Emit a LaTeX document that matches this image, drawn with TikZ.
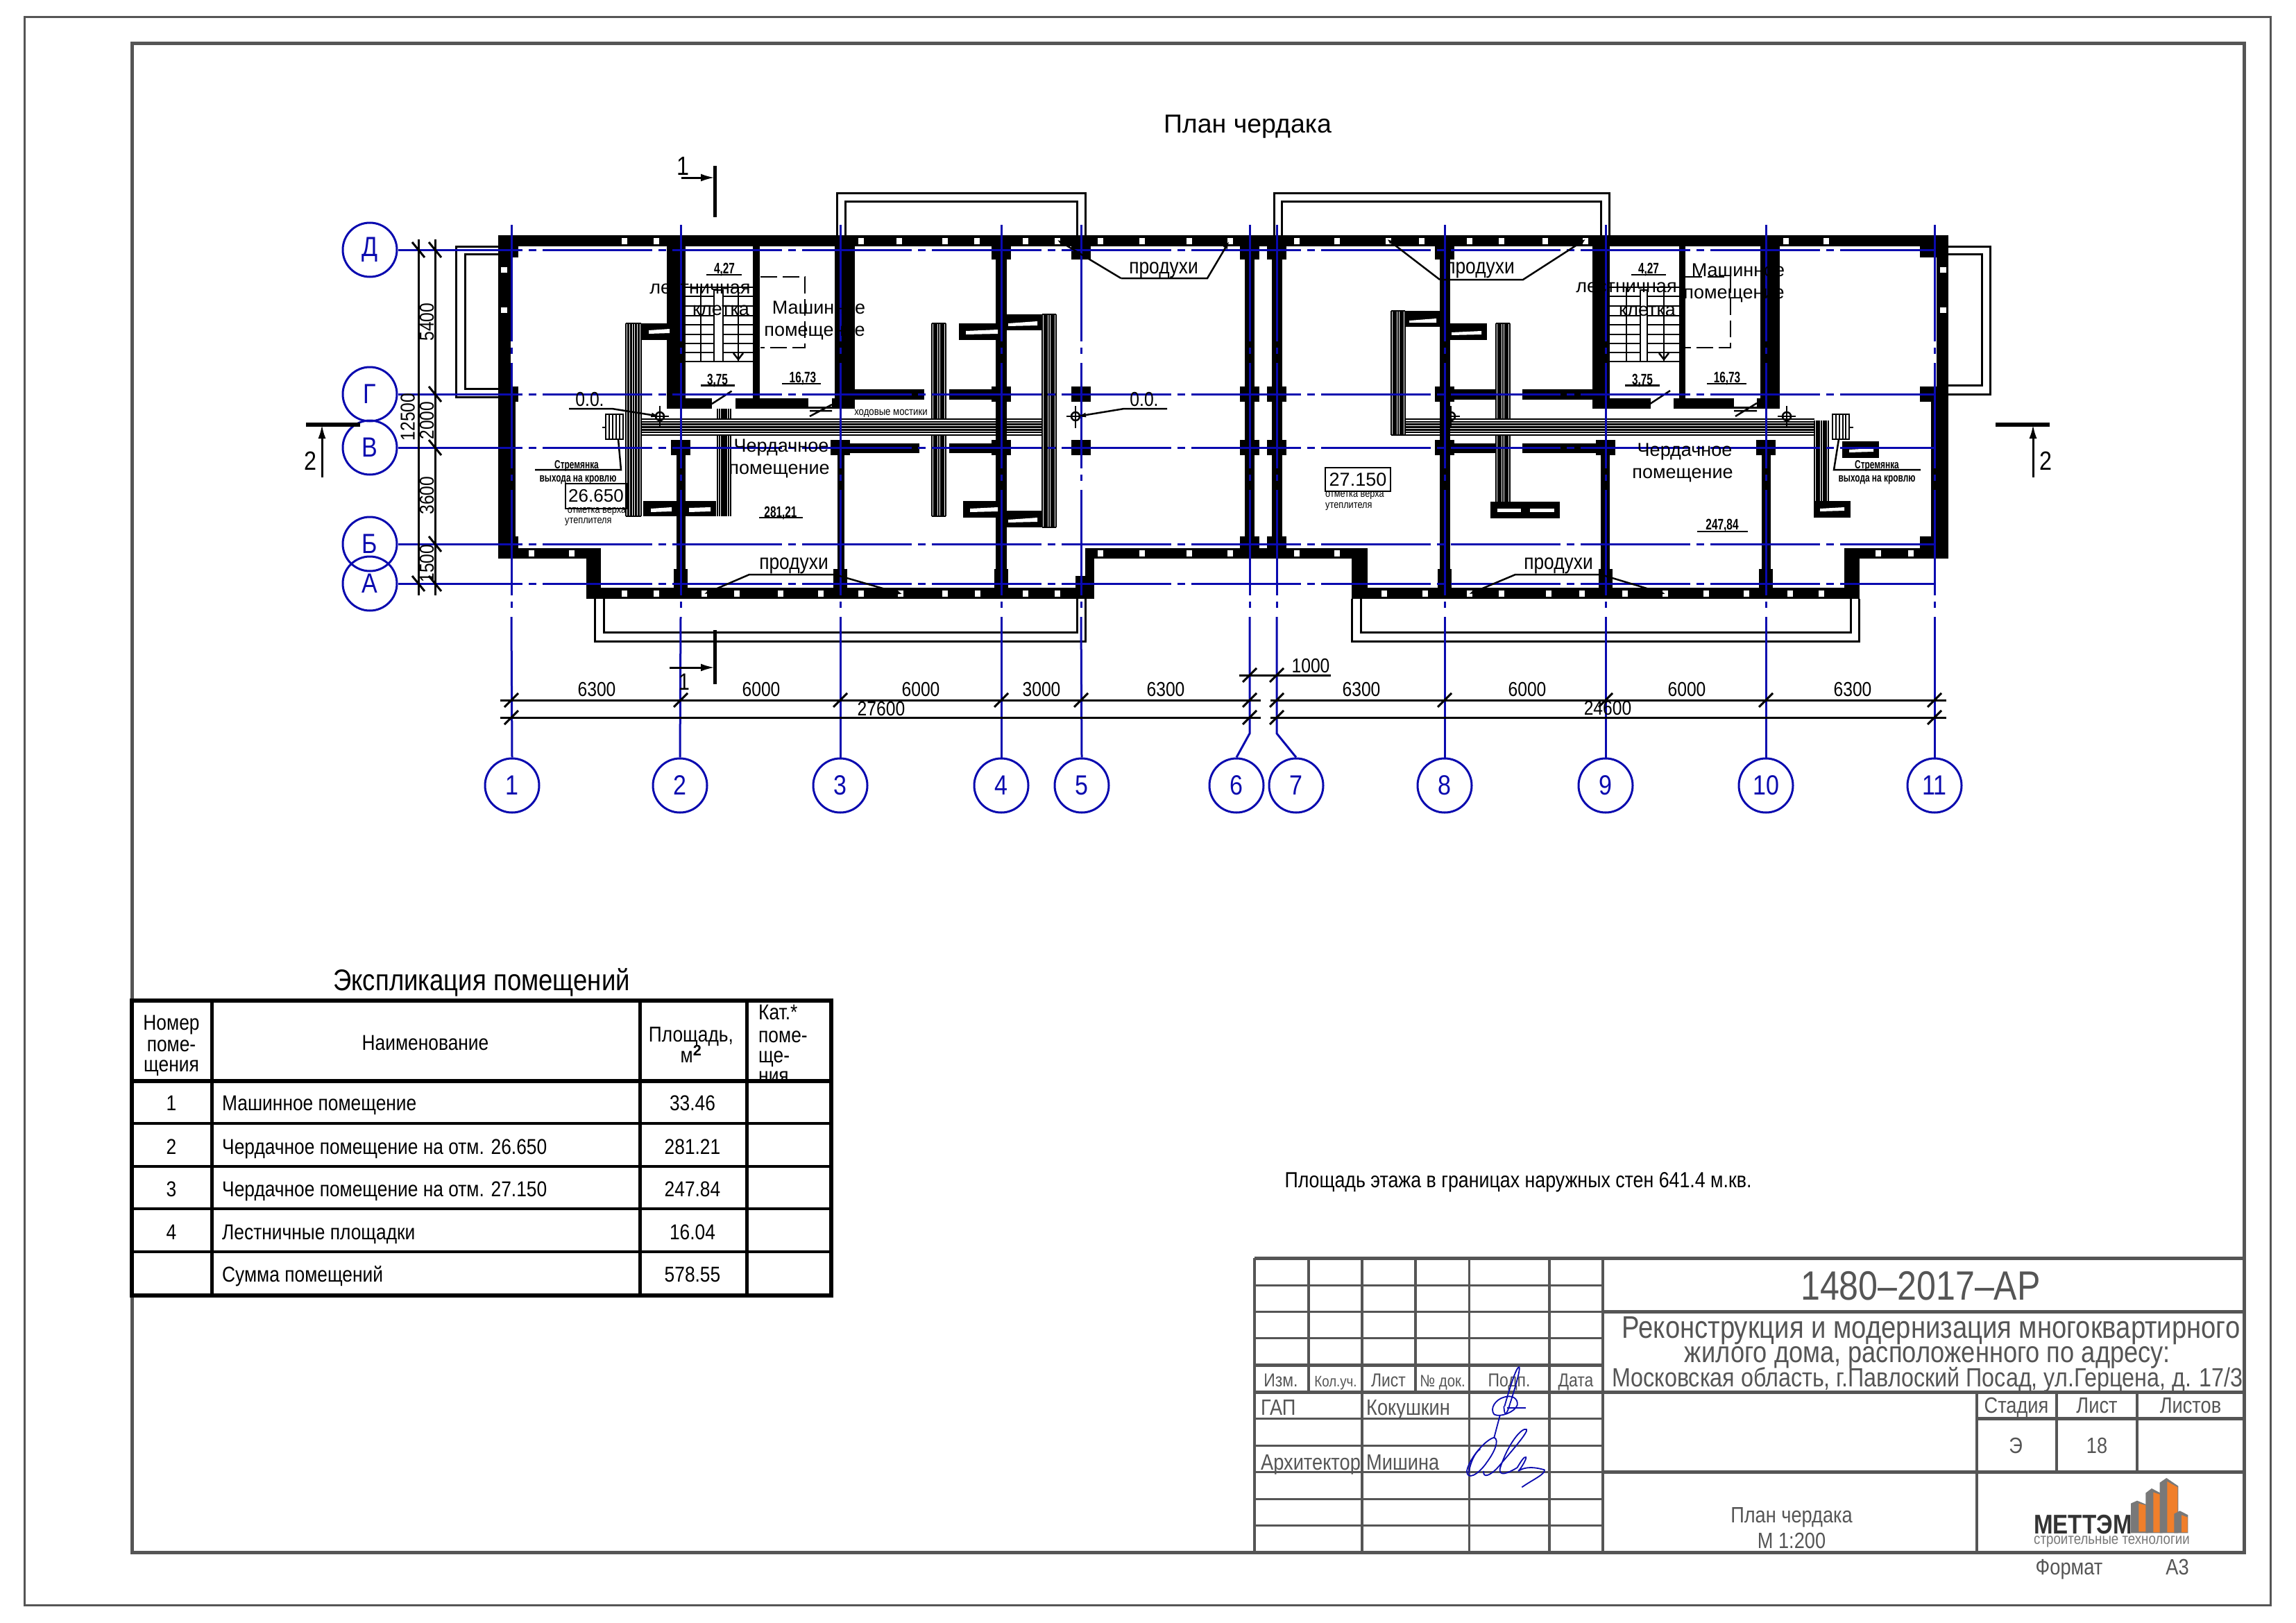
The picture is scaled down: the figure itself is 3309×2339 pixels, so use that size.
\documentclass[tikz,border=0pt]{standalone}
\usepackage{fontspec}
\setmainfont{Liberation Sans}
\newfontfamily\gost[FakeStretch=0.85]{Liberation Sans}
\newfontfamily\gostn[FakeStretch=0.7]{Liberation Sans}
\usetikzlibrary{arrows.meta}
\newcommand\fs[1]{\fontsize{#1}{#1}\selectfont}
\definecolor{axblue}{RGB}{10,10,175}
\definecolor{tbgray}{RGB}{85,85,85}
\definecolor{logoor}{RGB}{240,127,43}
\definecolor{logogr}{RGB}{120,120,120}
\newcommand\WallR[4]{\fill[black] (#1,#2) rectangle (#3,#4);}
\newcommand\HBand[4]{\foreach \i in {0,...,6} \draw[line width=2.5pt] (#1,{#3+\i*(#4-#3)/6}) -- (#2,{#3+\i*(#4-#3)/6}); }
\newcommand\VBand[4]{\foreach \i in {0,...,6} \draw[line width=2.5pt] ({#1+\i*(#2-#1)/6},#3) -- ({#1+\i*(#2-#1)/6},#4); }
\newcommand\BoxS[4]{\fill[black] (#1,#2) rectangle (#3,#4);}
\newcommand\Head[2]{\fill[black] (#1-14,#2-11) rectangle (#1+14,#2+11);}
\newcommand\HeadB[1]{\fill[black] (#1-10,820) rectangle (#1+10,847);}
\begin{document}
\begin{tikzpicture}[x=1pt,y=-1pt,
  axc/.style={draw=axblue,line width=3pt,circle,minimum size=78pt,inner sep=0pt,text=axblue,font=\gost\fs{40}},
  axl/.style={draw=axblue,line width=3pt},
  axh/.style={axl,dash pattern=on 158pt off 9pt on 11pt off 9pt,dash phase=0pt},
  outl/.style={draw=black,line width=3pt},
  dimt/.style={font=\gost\fs{29},text=black,inner sep=0pt,text height=21pt,text depth=0pt},
  room/.style={font=\fs{27},text=black,inner sep=0pt,align=center,text height=20pt,text depth=5pt},
  area/.style={font=\gostn\bfseries\fs{22},text=black,inner sep=0pt,text height=16pt,text depth=0pt},
  tick/.style={draw=black,line width=3pt},
  lead/.style={draw=black,line width=2.5pt},
  tbtext/.style={font=\gost\fs{32},text=tbgray,inner sep=0pt,text height=23pt,text depth=0pt},
  tabtext/.style={font=\gost\fs{31},text=black,inner sep=0pt,text height=22pt,text depth=0pt},
  sig/.style={draw=axblue,line width=1.8pt,line join=round},
  tiny/.style={font=\gost\fs{15},text=black,inner sep=0pt},
  ladt/.style={font=\gostn\bfseries\fs{17},text=black,inner sep=0pt,text height=12pt,text depth=0pt}
]
\useasboundingbox (0,0) rectangle (3309,2339);
\fill[white] (0,0) rectangle (3309,2339);
% frames
\draw[tbgray,line width=3pt] (35,25) rectangle (3272,2313);
\draw[tbgray,line width=5pt] (190,63) rectangle (3234,2237);
% title
\node[font=\fs{37.5},inner sep=0pt] (title) at (1798,182) {План чердака};
% balconies
\draw[outl] (1206,339) -- (1206,278) -- (1564,278) -- (1564,339);
\draw[outl] (1218,339) -- (1218,290) -- (1552,290) -- (1552,339);
\draw[outl] (1836,339) -- (1836,278) -- (2319,278) -- (2319,339);
\draw[outl] (1847,339) -- (1847,290) -- (2307,290) -- (2307,339);
\draw[outl] (857,863) -- (857,924) -- (1564,924) -- (1564,863);
\draw[outl] (870,863) -- (870,911) -- (1552,911) -- (1552,863);
\draw[outl] (1948,863) -- (1948,924) -- (2679,924) -- (2679,863);
\draw[outl] (1961,863) -- (1961,911) -- (2667,911) -- (2667,863);
\draw[outl] (718,355) -- (657,355) -- (657,572) -- (718,572);
\draw[outl] (718,366) -- (670,366) -- (670,560) -- (718,560);
\draw[outl] (2808,355) -- (2868,355) -- (2868,568) -- (2808,568);
\draw[outl] (2808,366) -- (2856,366) -- (2856,555) -- (2808,555);
% outer walls
\WallR{718}{339}{2808}{355}
\WallR{718}{339}{736}{805}
\WallR{718}{572}{743}{805}
\WallR{718}{790}{866}{805}
\WallR{845}{790}{866}{863}
\WallR{845}{847}{1577}{863}
\WallR{1564}{790}{1577}{863}
\WallR{1550}{830}{1577}{863}
\WallR{1564}{790}{1971}{805}
\WallR{1948}{790}{1971}{863}
\WallR{1948}{847}{2680}{863}
\WallR{2658}{790}{2680}{863}
\WallR{2658}{790}{2808}{805}
\WallR{2791}{339}{2808}{805}
\WallR{2783}{568}{2808}{800}
% heads of the end walls
\WallR{718}{355}{747}{371}
\WallR{718}{557}{747}{579}
\WallR{718}{773}{747}{795}
\WallR{2767}{355}{2795}{371}
\WallR{2767}{557}{2795}{579}
\WallR{2767}{773}{2795}{795}
% stair block left
\WallR{961}{355}{988}{589}
\WallR{961}{574}{1026}{589}
\WallR{1060}{574}{1232}{589}
\WallR{1203}{355}{1232}{589}
\WallR{1085}{355}{1095}{574}
\fill[white] (1165,574) rectangle (1199,586);
% axis 2, 3 lower
\WallR{975}{634}{988}{847}
\WallR{1207}{634}{1217}{847}
\Head{981}{645}\Head{1211}{645}\HeadB{981}\HeadB{1211}
% stubs left
\WallR{1217}{561}{1332}{576}
\WallR{1217}{639}{1325}{653}
\WallR{1368}{561}{1443}{576}
\WallR{1368}{639}{1443}{653}
% axis 4,5
\WallR{1435}{355}{1451}{847}
\Head{1443}{363}\Head{1443}{568}\Head{1443}{645}\HeadB{1443}
\Head{1558}{363}\Head{1558}{568}\Head{1558}{645}
% axis 6,7
\WallR{1794}{355}{1808}{790}
\WallR{1833}{355}{1848}{790}
\foreach \x in {1801,1840} {\Head{\x}{363}\Head{\x}{568}\Head{\x}{645}\Head{\x}{784}}
% axis 8
\WallR{2075}{355}{2090}{847}
\Head{2082}{363}\Head{2082}{568}\Head{2082}{645}\HeadB{2082}
% stair block right
\WallR{2295}{355}{2320}{589}
\WallR{2295}{574}{2379}{589}
\WallR{2412}{574}{2565}{589}
\WallR{2420}{355}{2429}{574}
\WallR{2537}{355}{2565}{589}
\fill[white] (2499,574) rectangle (2532,586);
\WallR{2307}{634}{2320}{847}
\WallR{2539}{634}{2552}{847}
\Head{2314}{645}\Head{2545}{645}\HeadB{2314}\HeadB{2545}
% stubs right
\WallR{2090}{561}{2156}{576}
\WallR{2194}{561}{2295}{576}
\WallR{2090}{639}{2156}{653}
\WallR{2194}{639}{2306}{653}
% windows
\foreach \x in {900,945.5,1241,1296,1362,1408,1478,1524,1586,1645.5,1714,1773,1869,1927,2001,2049,2117.5,2164,2227,2285,2574,2632}
  \fill[white] (\x-4,342.5) rectangle (\x+4,351.5);
\foreach \x in {900,945.5,1015,1061.5,1125,1183,1241,1298,1362,1408.5,1478,1524,1995,2054,2117.5,2164,2232,2280,2342,2400,2458.5,2516.5,2580,2625}
  \fill[white] (\x-4,851) rectangle (\x+4,860);
\foreach \x in {765.6,823.7,1586,1645.5,1714,1773,1869,1927,2707,2753.5}
  \fill[white] (\x-4,793) rectangle (\x+4,802);
\foreach \y in {388.6,446.6} {\fill[white] (722,\y-4) rectangle (731,\y+4); \fill[white] (2796,\y-4) rectangle (2805,\y+4);}
% ducts and walkways: left part
\BoxS{924}{466}{972}{490}
\BoxS{927}{722}{1032}{744}
\BoxS{1382}{466}{1443}{490}
\BoxS{1388}{722}{1443}{746}
\BoxS{1445}{453}{1502}{476}
\BoxS{1445}{736}{1502}{760}
\fill[white] (935,476) -- (965,474) -- (965,480) -- (935,481) -- cycle;
\fill[white] (938,733) -- (968,731) -- (968,737) -- (938,738) -- cycle;
\fill[white] (993,732) -- (1024,731) -- (1024,737) -- (993,738) -- cycle;
\fill[white] (1392,477) -- (1438,475) -- (1438,481) -- (1392,482) -- cycle;
\fill[white] (1398,733) -- (1438,731) -- (1438,737) -- (1398,738) -- cycle;
\fill[white] (1453,466) -- (1495,463) -- (1495,469) -- (1453,470) -- cycle;
\fill[white] (1453,749) -- (1495,746) -- (1495,752) -- (1453,753) -- cycle;
\HBand{924}{1502}{604}{627}
\VBand{902}{924}{466}{744}
\draw[line width=2pt] (902,466) -- (924,466) (902,744) -- (924,744);
\VBand{1502}{1522}{453}{760}
\draw[line width=2pt] (1502,453) -- (1522,453) (1502,760) -- (1522,760);
\VBand{1034}{1053}{589}{604}
\VBand{1034}{1053}{627}{744}
\VBand{1343}{1363}{466}{604}
\VBand{1343}{1363}{627}{744}
\draw[line width=2pt] (1343,466) -- (1363,466) (1343,744) -- (1363,744);
% ducts right part
\BoxS{2025}{447.5}{2076}{471}
\BoxS{2089}{466}{2143}{490}
\BoxS{2148}{723}{2248}{747}
\BoxS{2614}{722}{2667}{746}
\BoxS{2655}{636}{2708}{660}
\fill[white] (2031,462) -- (2070,459) -- (2070,465) -- (2031,465) -- cycle;
\fill[white] (2092,479) -- (2135,477) -- (2135,482) -- (2092,483) -- cycle;
\fill[white] (2158,733) -- (2192,733) -- (2192,738) -- (2158,738) -- cycle;
\fill[white] (2205,733) -- (2240,733) -- (2240,738) -- (2205,738) -- cycle;
\fill[white] (2623,733) -- (2658,731) -- (2658,736) -- (2623,737) -- cycle;
\fill[white] (2665,648) -- (2700,646) -- (2700,651) -- (2665,652) -- cycle;
\HBand{2025}{2615}{604}{627}
\VBand{2005}{2025}{447.5}{627}
\draw[line width=2pt] (2005,447.5) -- (2025,447.5) (2005,627) -- (2025,627);
\VBand{2615}{2635}{606}{722}
\VBand{2156}{2176}{466}{604}
\VBand{2156}{2176}{627}{724}
\draw[line width=2pt] (2156,466) -- (2176,466);
% stairs left
\foreach \y in {414,427,441,455,468,482,495,508,521} \draw[line width=2.5pt] (988,\y) -- (1085,\y);
\draw[line width=2.5pt] (1010,414) -- (1010,521) (1064,414) -- (1064,521);
\draw[line width=2.5pt,fill=white] (1029,418) rectangle (1042,521);
\draw[line width=2.5pt,-{Straight Barb[length=9pt,width=14pt]}] (1064,484) -- (1064,520);
% stairs right
\foreach \y in {414,427,441,455,468,482,495,508,521} \draw[line width=2.5pt] (2320,\y) -- (2420,\y);
\draw[line width=2.5pt] (2344,414) -- (2344,521) (2398,414) -- (2398,521);
\draw[line width=2.5pt,fill=white] (2364,418) rectangle (2374,521);
\draw[line width=2.5pt,-{Straight Barb[length=9pt,width=14pt]}] (2398,484) -- (2398,520);
% dashed rooms
\draw[black,line width=2.5pt,dash pattern=on 24pt off 8pt] (1096,399) -- (1160,399) -- (1160,501) -- (1096,501);
\draw[black,line width=2.5pt,dash pattern=on 24pt off 8pt] (2429,399) -- (2494,399) -- (2494,501) -- (2429,501);
% doors
\draw[line width=2.5pt] (1026,582) -- (1054.5,563.6);
\draw[line width=2.5pt] (1167,600) -- (1199,583) (1167,592) -- (1199,592);
\draw[line width=2.5pt] (2378,582) -- (2407,563);
\draw[line width=2.5pt] (2501,600) -- (2532,581) (2499,592) -- (2532,592);
% ladders
\draw[line width=2pt] (873,597) rectangle (898,633);
\foreach \x in {878,883,888,893} \draw[line width=1.5pt] (\x,597) -- (\x,633);
\draw[line width=2.5pt] (868,616) -- (873,616);
\draw[line width=2pt] (2641,597) rectangle (2665,633);
\foreach \x in {2646,2651,2656,2660} \draw[line width=1.5pt] (\x,597) -- (\x,633);
\draw[line width=2.5pt] (2665,616) -- (2671,616);
\draw[lead] (891,633) -- (895,677) -- (771,677);
\draw[lead] (2650,633) -- (2643,677) -- (2768,677);
\node[ladt] (s1) at (831,669) {Стремянка};
\node[ladt] (s2) at (833,688) {выхода на кровлю};
\node[ladt] (s3) at (2705,669) {Стремянка};
\node[ladt] (s4) at (2705,688) {выхода на кровлю};
% drains
\foreach \x/\y in {951/600,1550/600,2091/600,2575/600} {
  \draw[line width=2.5pt] (\x,\y) circle (6pt);
  \draw[line width=2.5pt] (\x-13,\y) -- (\x+13,\y) (\x,\y-15) -- (\x,\y+17);
}
% grid axes: nodes
\node[axc] (aD) at (533,360) {Д};
\node[axc] (aG) at (533,568) {Г};
\node[axc] (aV) at (533,645) {В};
\node[axc] (aB) at (533,784) {Б};
\node[axc] (aA) at (533,841) {А};
\foreach \y/\n in {360/aD,568/aG,645/aV,784/aB,841/aA} {
  \draw[axl] (\n.east) -- (595,\y);
  \draw[axh] (595,\y) -- (2790,\y);
}
\foreach \n/\x in {1/738,2/980,3/1211,4/1443,5/1559,6/1782,7/1868,8/2082,9/2314,10/2545,11/2788}
  \node[axc] (c\n) at (\x,1132) {\n};
\foreach \n/\x in {1/737,2/981,3/1211,4/1443,5/1558,6/1801,7/1840,8/2082,9/2314,10/2545,11/2788} {
  \draw[axl] (\x,324) -- (\x,492) (\x,501) -- (\x,510) (\x,523) -- (\x,675) (\x,684) -- (\x,693) (\x,706) -- (\x,858) (\x,867) -- (\x,876);
}
\foreach \n/\x in {1/737,2/981,3/1211,4/1443,5/1558,8/2082,9/2314,10/2545,11/2788}
  \draw[axl] (\x,889) -- (c\n.north);
\draw[axl] (1801,889) -- (1801,1057) -- (c6.north);
\draw[axl] (1840,889) -- (1840,1057) -- (c7.north);
% left dimensions
\draw[tick] (603,345) -- (603,858);
\draw[tick] (627,345) -- (627,858);
\foreach \x/\y in {603/360,603/841,627/360,627/568,627/645,627/784,627/841}
  \draw[tick] (\x-9,\y-11) -- (\x+9,\y+11);
\node[dimt,rotate=90] (d1) at (587,601) {12500};
\node[dimt,rotate=90] (d2) at (614.5,464) {5400};
\node[dimt,rotate=90] (d3) at (614.5,606) {2000};
\node[dimt,rotate=90] (d4) at (614.5,714) {3600};
\node[dimt,rotate=90] (d5) at (614.5,812) {1500};
% bottom dimensions
\draw[tick] (721,1009) -- (1817,1009) (1831,1009) -- (2805,1009);
\draw[tick] (721,1034) -- (1817,1034) (1831,1034) -- (2805,1034);
\draw[tick] (1786,973) -- (1918,973);
\foreach \x in {737,981,1211,1443,1558,1801,1840,2082,2314,2545,2788}
  \draw[tick] (\x-10,1019) -- (\x+10,999);
\foreach \x in {737,1801,1840,2788}
  \draw[tick] (\x-10,1044) -- (\x+10,1024);
\foreach \x in {1801,1840}
  \draw[tick] (\x-10,983) -- (\x+10,963);
\foreach \x/\t in {860/6300,1097/6000,1327/6000,1501/3000,1680/6300,1962/6300,2201/6000,2431/6000,2670/6300}
  \node[dimt] at (\x,993) {\t};
\node[dimt] (d27) at (1270,1021) {27600};
\node[dimt] (d24) at (2317,1020) {24600};
\node[dimt] (d10) at (1889,959) {1000};
% section marks
\draw[line width=5pt] (1030,239) -- (1030,313);
\draw[line width=3pt,-{Latex[length=20pt,width=11pt]}] (982,256) -- (1030,256);
\node[font=\gost\fs{38},inner sep=0pt] (sec1a) at (984,239) {1};
\draw[line width=5pt] (1030,908) -- (1030,986);
\draw[line width=3pt,-{Latex[length=20pt,width=11pt]}] (965,962) -- (1030,962);
\node[font=\gost\fs{34},inner sep=0pt] (sec1b) at (986,983) {1};
\draw[line width=6pt] (441,612) -- (519,612);
\draw[line width=3pt,-{Latex[length=20pt,width=11pt]}] (464,688) -- (464,612);
\node[font=\gost\fs{38},inner sep=0pt] (sec2a) at (447,664) {2};
\draw[line width=6pt] (2876,612) -- (2954,612);
\draw[line width=3pt,-{Latex[length=20pt,width=11pt]}] (2930,688) -- (2930,612);
\node[font=\gost\fs{38},inner sep=0pt] (sec2b) at (2948,664) {2};
% leaders
\draw[lead,-{Latex[length=12pt,width=7pt]}] (820,589) -- (882,589) -- (951,600);
\node[dimt] (oo1) at (850,575) {0.0.};
\draw[lead,-{Latex[length=12pt,width=7pt]}] (1682,589) -- (1620,589) -- (1553,600);
\node[dimt] (oo2) at (1649,575) {0.0.};
\draw[lead,-{Latex[length=7pt,width=6pt]}] (1203,828) -- (1080,828) -- (1015,856);
\draw[lead,-{Latex[length=7pt,width=6pt]}] (1203,828) -- (1300,856);
\draw[lead,-{Latex[length=7pt,width=6pt]}] (1615.5,401) -- (1524,346);
\draw[lead,-{Latex[length=12pt,width=7pt]}] (1615.5,401) -- (1740,401) -- (1772,347);
\draw[lead,-{Latex[length=7pt,width=6pt]}] (2075,403) -- (1999.5,345);
\draw[lead,-{Latex[length=7pt,width=6pt]}] (2075,403) -- (2195,403) -- (2285,345);
\draw[lead,-{Latex[length=7pt,width=6pt]}] (2307,828) -- (2184,828) -- (2117.5,856);
\draw[lead,-{Latex[length=7pt,width=6pt]}] (2307,828) -- (2400,856);
\foreach \x/\y in {1144/815,1677/389,2133/389,2246/815}
  \node[font=\gost\fs{31},inner sep=0pt,text height=17pt,text depth=7pt] at (\x,\y) {продухи};
% room text
\node[room] (r1) at (1009,416) {лестничная};
\node[room] (r2) at (1039,447) {клетка};
\node[room] (r3) at (1180,445) {Машинное};
\node[room] (r4) at (1174,477) {помещение};
\node[room] (r5) at (1126,644) {Чердачное};
\node[room] (r6) at (1123,676) {помещение};
\node[room] (r7) at (2344,414) {лестничная};
\node[room] (r8) at (2374,448) {клетка};
\node[room] (r9) at (2505,391) {Машинное};
\node[room] (r10) at (2499,423) {помещение};
\node[room] (r11) at (2428,650) {Чердачное};
\node[room] (r12) at (2425,682) {помещение};
\node[tiny,font=\gost\fs{15.5}] (wk) at (1284,596) {ходовые мостики};
% areas
\foreach \x/\y/\t/\a/\b/\ly in {1044/386/{4,27}/1018/1069/396,1034/546/{3,75}/1010/1059/555.5,1157/543.5/{16,73}/1127/1183/553,1125/737/{281,21}/1094/1157/746,2376/386/{4,27}/2351/2401/396,2367/546/{3,75}/2342/2392/555.5,2489/543.5/{16,73}/2460/2517/553,2482/755.5/{247,84}/2446/2519/766} {
  \node[area] at (\x,\y) {\t};
  \draw[lead] (\a,\ly) -- (\b,\ly);
}
% levels
\node[draw=black,line width=2.5pt,minimum width=88pt,minimum height=36pt,font=\fs{26},inner sep=0pt] (lv1) at (859,715) {26.650};
\node[tiny] (lv1a) at (860,737) {отметка верха};
\node[tiny,anchor=west] (lv1b) at (814,752) {утеплителя};
\node[draw=black,line width=2.5pt,minimum width=94pt,minimum height=34pt,font=\fs{27},inner sep=0pt] (lv2) at (1957,691) {27.150};
\node[tiny,anchor=west] (lv2a) at (1910,714) {отметка верха};
\node[tiny,anchor=west] (lv2b) at (1910,730) {утеплителя};
% explication table
\node[font=\gost\fs{43},inner sep=0pt,text height=30pt,text depth=0pt] (tabt) at (694,1412) {Экспликация помещений};
\draw[line width=6pt] (190,1442) rectangle (1198,1867);
\draw[line width=6pt] (190,1558) -- (1198,1558);
\foreach \y in {1619,1681,1742,1804} \draw[line width=3.5pt] (190,\y) -- (1198,\y);
\foreach \x in {305,922,1076} \draw[line width=5pt] (\x,1442) -- (\x,1867);
\node[tabtext] at (247,1473) {Номер};
\node[tabtext] at (247,1504) {поме-};
\node[tabtext] at (247,1533) {щения};
\node[tabtext] at (613,1502) {Наименование};
\node[tabtext] at (996,1490) {Площадь,};
\node[tabtext] at (996,1520) {м$^{\mathbf 2}$};
\node[tabtext,anchor=west] at (1093,1458) {Кат.*};
\node[tabtext,anchor=west] at (1093,1491) {поме-};
\node[tabtext,anchor=west] at (1093,1520) {ще-};
\node[tabtext,anchor=west] at (1093,1549) {ния};
\foreach \y/\a/\b/\c in {1589/1/Машинное помещение/33.46,1652/2/Чердачное помещение на отм. 26.650/281.21,1713/3/Чердачное помещение на отм. 27.150/247.84,1775/4/Лестничные площадки/16.04,1836//Сумма помещений/578.55} {
  \node[tabtext] at (247,\y) {\a};
  \node[tabtext,anchor=west] at (320,\y) {\b};
  \node[tabtext] at (998,\y) {\c};
}
\node[font=\gost\fs{31.5},inner sep=0pt,text height=22pt,text depth=0pt] (floor) at (2188,1700) {Площадь этажа в границах наружных стен 641.4 м.кв.};
% title block
\begin{scope}[tbgray]
\draw[line width=5pt] (1808,1813) -- (3234,1813);
\foreach \y in {1852,1890,1928,2044,2083,2160,2198} \draw[line width=3pt] (1808,\y) -- (2310,\y);
\foreach \y in {1967,2006} \draw[line width=5pt] (1808,\y) -- (2310,\y);
\draw[line width=5pt] (2310,1890) -- (3234,1890);
\draw[line width=5pt] (2310,2006) -- (3234,2006);
\draw[line width=5pt] (2310,2121) -- (3234,2121);
\draw[line width=3pt] (1808,2121) -- (2310,2121);
\draw[line width=5pt] (2849,2044) -- (3234,2044);
\draw[line width=5pt] (1808,2237) -- (3234,2237);
\foreach \x in {1808,2117.5,2233,2310} \draw[line width=3.5pt] (\x,1813) -- (\x,2237);
\foreach \x in {1886,2040} \draw[line width=3.5pt] (\x,1813) -- (\x,2006);
\draw[line width=3.5pt] (1963,1813) -- (1963,2237);
\foreach \x in {2964,3080} \draw[line width=3.5pt] (\x,2006) -- (\x,2121);
\draw[line width=3.5pt] (2849,2006) -- (2849,2237);
\end{scope}
\node[tbtext,font=\gost\fs{59},text height=42pt] (tb1) at (2768,1852) {1480–2017–АР};
\node[tbtext,font=\gost\fs{45},text height=30pt] (tb2) at (2783,1913) {Реконструкция и модернизация многоквартирного};
\node[tbtext,font=\gost\fs{42.7},text height=30pt] (tb3) at (2778,1948) {жилого дома, расположенного по адресу:};
\node[tbtext,font=\gost\fs{38},text height=30pt] (tb4) at (2778,1983) {Московская область, г.Павлоский Посад, ул.Герцена, д. 17/3};
\foreach \x/\t/\s in {1846/Изм./27,1925/Кол.уч./22,2001/Лист/27,2079/№ док./24,2175/Подп./27,2271/Дата/27}
  \node[tbtext,font=\gost\fs{\s},text height=20pt] at (\x,1988) {\t};
\node[tbtext,anchor=west] at (1817,2028) {ГАП};
\node[tbtext,anchor=west] at (1969,2028) {Кокушкин};
\node[tbtext,anchor=west] at (1817,2107) {Архитектор};
\node[tbtext,anchor=west] at (1969,2107) {Мишина};
\node[tbtext] at (2906,2025) {Стадия};
\node[tbtext] at (3022,2025) {Лист};
\node[tbtext] at (3157,2025) {Листов};
\node[tbtext] at (2905,2083) {Э};
\node[tbtext] at (3022,2083) {18};
\node[tbtext] at (2582,2183) {План чердака};
\node[tbtext] at (2582,2220) {М 1:200};
\node[tbtext] at (2982,2258) {Формат};
\node[tbtext] at (3138,2258) {А3};
% logo
\begin{scope}[shift={(2920,2120)},x=0.3333pt,y=-0.3333pt]
\fill[logogr] (453,268) -- (453,140) -- (480,128) -- (528,148) -- (528,268) -- cycle;
\fill[logoor] (487,140) -- (526,150) -- (526,262) -- (487,262) -- cycle;
\fill[logogr] (517,268) -- (517,95) -- (543,75) -- (590,100) -- (590,268) -- cycle;
\fill[logoor] (550,92) -- (590,105) -- (590,265) -- (550,265) -- cycle;
\fill[logogr] (578,268) -- (578,50) -- (607,30) -- (658,65) -- (658,268) -- cycle;
\fill[logoor] (610,45) -- (655,70) -- (655,265) -- (610,265) -- cycle;
\fill[logogr] (640,268) -- (640,185) -- (665,172) -- (700,190) -- (700,268) -- cycle;
\fill[logoor] (672,190) -- (698,200) -- (698,265) -- (672,265) -- cycle;
\end{scope}
\node[font=\gost\bfseries\fs{39},text=black!80,inner sep=0pt,anchor=west,text height=28pt,text depth=0pt] (logo1) at (2931,2196) {МЕТТЭМ};
\node[font=\gost\fs{22},text=logogr,inner sep=0pt,anchor=west,text height=10pt,text depth=0pt] (logo2) at (2931,2220) {строительные технологии};
% signatures
\begin{scope}[shift={(2090,1960)},x=0.3333pt,y=-0.3333pt]
\draw[sig] (235,200) .. controls (255,130) and (285,30) .. (298,30) .. controls (305,35) and (285,110) .. (250,215) .. controls (240,240) and (235,240) .. (232,200);
\draw[sig] (235,160) .. controls (195,170) and (170,210) .. (190,235) .. controls (215,250) and (280,225) .. (290,195) .. controls (295,165) and (265,150) .. (235,160);
\draw[sig] (245,208) -- (328,208);
\draw[sig] (215,240) -- (190,335);
\draw[sig] (190,335) .. controls (150,345) and (80,430) .. (72,480) .. controls (72,520) and (120,500) .. (160,440) .. controls (190,400) and (215,345) .. (190,335);
\draw[sig] (130,385) .. controls (105,400) and (85,450) .. (80,490);
\draw[sig] (145,480) .. controls (140,510) and (170,505) .. (210,460) .. controls (260,400) and (340,310) .. (330,300) .. controls (310,290) and (250,360) .. (215,470) .. controls (210,505) and (250,490) .. (290,465) .. controls (305,440) and (320,415) .. (328,420) .. controls (330,430) and (305,470) .. (295,480) .. controls (310,470) and (340,455) .. (408,475) .. controls (410,495) and (360,515) .. (310,550);
\end{scope}
\end{tikzpicture}
\end{document}
